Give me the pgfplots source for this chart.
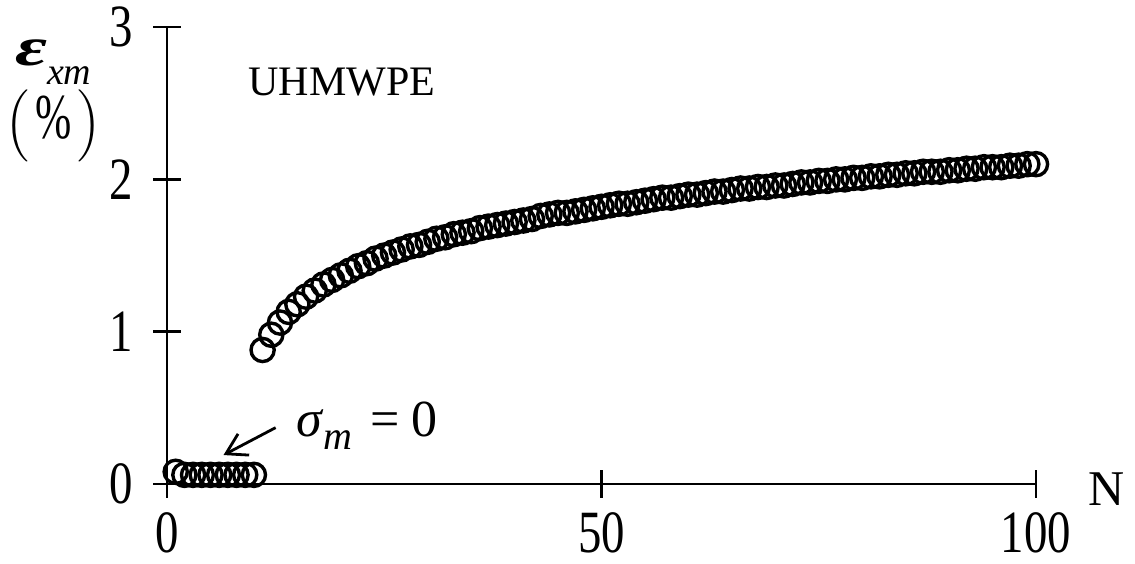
\documentclass[border=0pt]{standalone}
\usepackage{fontspec}
\setmainfont{Liberation Serif}
\usepackage{pgfplots}
\pgfplotsset{compat=1.18}
\usetikzlibrary{arrows.meta}
\begin{document}
\begin{tikzpicture}
\begin{axis}[
  scale only axis,
  width=217.25pt, height=114.225pt,
  xmin=0, xmax=100, ymin=0, ymax=3,
  axis lines=left,
  axis line style={-, line width=0.6pt, black},
  xtick={0,50,100}, ytick={0,1,2,3},
  tick align=center,
  major tick length=7pt,
  tick style={line width=0.6pt, black},
  /pgf/number format/assume math mode=true,
  tick label style={font=\fontsize{15}{15}\selectfont},
  xticklabel={\scalebox{0.78}[1]{\pgfmathprintnumber{\tick}}},
  yticklabel={\scalebox{0.78}[1]{\pgfmathprintnumber{\tick}}},
  yticklabel style={xshift=-1.5pt},
  clip=false,
]
\addplot[only marks, mark=o, mark size=2.9pt,
  mark options={fill=white, draw=black, line width=0.85pt}] coordinates {
(1,0.08) (2,0.06) (3,0.06) (4,0.06) (5,0.06) (6,0.06) (7,0.06) (8,0.06) (9,0.06) (10,0.06)
(11,0.88) (12,0.98) (13,1.06) (14,1.13) (15,1.18) (16,1.23) (17,1.27) (18,1.31) (19,1.34) (20,1.37)
(21,1.40) (22,1.43) (23,1.45) (24,1.48) (25,1.50) (26,1.52) (27,1.54) (28,1.56) (29,1.57) (30,1.59)
(31,1.61) (32,1.62) (33,1.64) (34,1.65) (35,1.66) (36,1.68) (37,1.69) (38,1.70) (39,1.71) (40,1.72)
(41,1.73) (42,1.74) (43,1.76) (44,1.77) (45,1.78) (46,1.78) (47,1.79) (48,1.80) (49,1.81) (50,1.82)
(51,1.83) (52,1.84) (53,1.84) (54,1.85) (55,1.86) (56,1.87) (57,1.88) (58,1.88) (59,1.89) (60,1.90)
(61,1.90) (62,1.91) (63,1.92) (64,1.92) (65,1.93) (66,1.94) (67,1.94) (68,1.95) (69,1.95) (70,1.96)
(71,1.96) (72,1.97) (73,1.98) (74,1.98) (75,1.99) (76,1.99) (77,2.00) (78,2.00) (79,2.01) (80,2.01)
(81,2.02) (82,2.02) (83,2.03) (84,2.03) (85,2.04) (86,2.04) (87,2.05) (88,2.05) (89,2.05) (90,2.06)
(91,2.06) (92,2.07) (93,2.07) (94,2.08) (95,2.08) (96,2.08) (97,2.09) (98,2.09) (99,2.10) (100,2.10)
};
\node[anchor=base west, inner sep=0pt, font=\fontsize{10.5}{12}\selectfont] at (axis cs:9.3,2.554) {UHMWPE};
\node[anchor=base west, inner sep=0pt, font=\fontsize{12.5}{14}\selectfont] at (axis cs:106,-0.138) {N};
\node[anchor=base west, inner sep=0pt, font=\fontsize{13}{15}\selectfont] at (axis cs:14.8,0.31)
  {\textit{σ}\raisebox{-0.55ex}{\fontsize{10}{11}\selectfont\textit{m}}\hspace{4.5pt}=\hspace{3pt}0};
\draw[-{Straight Barb[length=5pt,width=6pt]}, line width=0.7pt] (axis cs:12.5,0.37) -- (axis cs:6.5,0.19);
\node[anchor=base, inner sep=0pt, font=\fontsize{13}{15}\selectfont] at (axis cs:-13.1,2.75)
  {\begin{tabular}[t]{@{}c@{}}
   \scalebox{1.5}[1.05]{\textbf{\textit{ε}}}\raisebox{-0.8ex}{\fontsize{9.5}{10}\selectfont\textit{xm}}\\[1.75pt]
   $\Bigl($\hspace{1.5pt}\scalebox{0.68}[1]{\fontsize{16}{16}\selectfont\%}\hspace{1.5pt}$\Bigr)$
   \end{tabular}};
\coordinate (BL) at (axis cs:-19.22,-0.519);
\coordinate (TR) at (axis cs:111.39,3.178);
\end{axis}
\pgfresetboundingbox
\path (BL) rectangle (TR);
\end{tikzpicture}
\end{document}
